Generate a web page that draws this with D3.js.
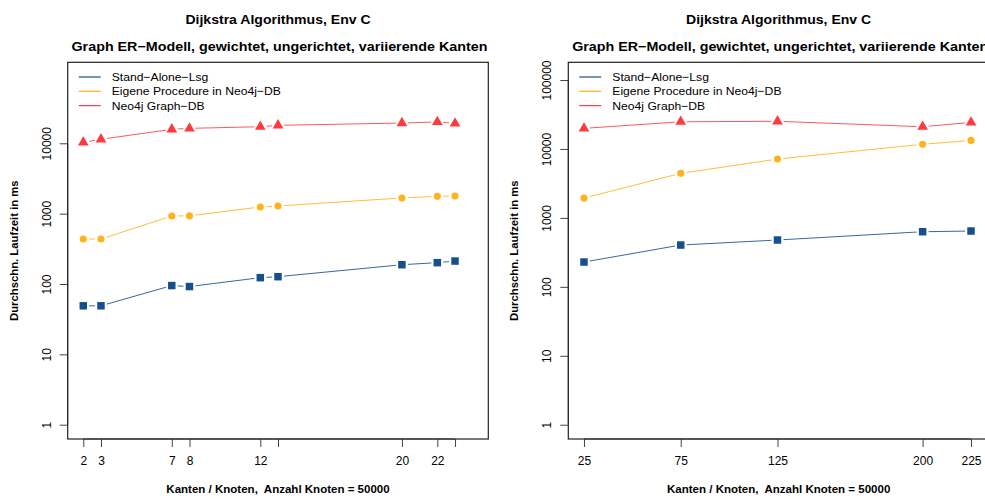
<!DOCTYPE html>
<html>
<head>
<meta charset="utf-8">
<script src="https://cdn.jsdelivr.net/npm/d3@7"></script>
<style>
  body { margin: 0; background: #fff; }
  text { font-family: "Liberation Sans", Arial, sans-serif; fill: #000; white-space: pre; }
</style>
</head>
<body>
<div id="chart"></div>
<script>
// data
var seriesNames = ["Stand\u2212Alone\u2212Lsg", "Eigene Procedure in Neo4j\u2212DB", "Neo4j Graph\u2212DB"];
var seriesColors = ["#154f8c", "#ffb21a", "#ff3a3f"];

var leftX = [2, 3, 7, 8, 12, 13, 20, 22, 23];
var leftXLabels = ["2", "3", "7", "8", "12", "", "20", "22", ""];
var leftStandAlone = [49, 49, 95, 92, 123, 127, 188, 201, 212];
var leftProcedure = [436, 436, 926, 930, 1244, 1285, 1670, 1763, 1780];
var leftGraphDB = [10300, 11400, 15800, 16300, 17200, 18000, 19400, 20100, 19200];
var leftYTicks = [1, 10, 100, 1000, 10000];

var rightX = [25, 75, 125, 200, 225];
var rightXLabels = ["25", "75", "125", "200", "225"];
var rightStandAlone = [229, 404, 478, 630, 645];
var rightProcedure = [1940, 4430, 7140, 11700, 13300];
var rightGraphDB = [19900, 24800, 25200, 21000, 24300];
var rightYTicks = [1, 10, 100, 1000, 10000, 100000];

var title1 = "Dijkstra Algorithmus, Env C";
var title2 = "Graph ER\u2212Modell, gewichtet, ungerichtet, variierende Kanten";
var xTitle = "Kanten / Knoten,  Anzahl Knoten = 50000";
var yTitle = "Durchschn. Laufzeit in ms";

var svgWidth = 985;
var svgHeight = 499;

var svg = d3.select("#chart")
  .append("svg")
  .attr("width", svgWidth)
  .attr("height", svgHeight);

// the picture is a little wider than tall, so stretch text sideways
function wide(sel, k) {
  sel.each(function() {
    var w = this.getComputedTextLength();
    d3.select(this).attr("textLength", w * k).attr("lengthAdjust", "spacingAndGlyphs");
  });
}

function drawPanel(opts) {
  var g = svg.append("g");
  var left = opts.left, right = opts.right, top = 62.3, bottom = 439;

  var x = d3.scaleLinear().domain(opts.xDomain).range([left, right]);
  var y = d3.scaleLog().domain([Math.pow(10, opts.yLogMin), Math.pow(10, opts.yLogMax)]).range([bottom, top]);

  var cx = (left + right) / 2;

  // titles
  g.append("text").attr("x", cx).attr("y", 23.5).attr("text-anchor", "middle")
    .style("font-size", "13px").style("font-weight", "bold").text(title1).call(wide, 1.08);
  g.append("text").attr("x", cx + 1.5).attr("y", 51).attr("text-anchor", "middle")
    .style("font-size", "13px").style("font-weight", "bold").text(title2).call(wide, 1.1);

  // x axis
  var xAxis = d3.axisBottom(x)
    .tickValues(opts.xs)
    .tickFormat(function(d, i) { return opts.xLabels[i]; })
    .tickSizeInner(8).tickSizeOuter(0).tickPadding(9);
  var gx = g.append("g").attr("transform", "translate(0," + bottom + ")").call(xAxis);
  gx.select(".domain").attr("stroke", "#444")
    .attr("d", "M" + x(opts.xs[0]) + ",0H" + x(opts.xs[opts.xs.length - 1]));
  gx.selectAll(".tick line").attr("stroke", "#444");
  gx.selectAll("text").style("font-size", "12px").style("font-family", "Liberation Sans, Arial, sans-serif").attr("fill", "#000");

  // y axis
  var yAxis = d3.axisLeft(y)
    .tickValues(opts.yTicks)
    .tickFormat(d3.format("d"))
    .tickSizeInner(8).tickSizeOuter(0);
  var gy = g.append("g").attr("transform", "translate(" + left + ",0)").call(yAxis);
  gy.select(".domain").attr("stroke", "#444")
    .attr("d", "M0," + y(opts.yTicks[0]) + "V" + y(opts.yTicks[opts.yTicks.length - 1]));
  gy.selectAll(".tick line").attr("stroke", "#444");
  gy.selectAll(".tick text")
    .attr("x", 0).attr("y", 0).attr("dy", 0)
    .attr("text-anchor", "middle")
    .attr("transform", "translate(-17,0) rotate(-90)")
    .style("font-size", "12px").style("font-family", "Liberation Sans, Arial, sans-serif").attr("fill", "#000");

  // box
  g.append("rect").attr("x", left).attr("y", top)
    .attr("width", right - left).attr("height", bottom - top)
    .attr("fill", "none").attr("stroke", "#222").attr("stroke-width", 1.2);

  // axis titles
  g.append("text").attr("x", cx).attr("y", 493).attr("text-anchor", "middle")
    .style("font-size", "11.3px").style("font-weight", "bold").text(xTitle).call(wide, 1.02);
  g.append("text").attr("transform", "translate(" + (left - 50) + "," + ((top + bottom) / 2) + ") rotate(-90)")
    .attr("text-anchor", "middle")
    .style("font-size", "11.3px").style("font-weight", "bold").text(yTitle);

  // series, drawn like type = "b" (lines broken around points)
  var gap = 6;
  opts.series.forEach(function(vals, s) {
    var col = seriesColors[s];
    var pts = vals.map(function(v, i) { return [x(opts.xs[i]), y(v)]; });
    for (var i = 0; i < pts.length - 1; i++) {
      var dx = pts[i + 1][0] - pts[i][0], dy = pts[i + 1][1] - pts[i][1];
      var len = Math.sqrt(dx * dx + dy * dy);
      if (len <= 2 * gap) continue;
      var ux = dx / len, uy = dy / len;
      g.append("line")
        .attr("x1", pts[i][0] + ux * gap).attr("y1", pts[i][1] + uy * gap)
        .attr("x2", pts[i + 1][0] - ux * gap).attr("y2", pts[i + 1][1] - uy * gap)
        .attr("stroke", col).attr("stroke-width", 1).attr("stroke-opacity", 0.85);
    }
    var sym = [d3.symbolSquare, d3.symbolCircle, d3.symbolTriangle][s];
    var size = [56, 40, 50][s];
    g.selectAll(".pt" + s)
      .data(pts)
      .enter()
      .append("path")
      .attr("d", d3.symbol().type(sym).size(size))
      .attr("transform", function(d) { return "translate(" + d[0] + "," + d[1] + ")"; })
      .attr("fill", col);
  });

  // legend
  var lg = g.append("g");
  seriesNames.forEach(function(name, i) {
    var ly = 77 + i * 14.3;
    lg.append("line").attr("x1", left + 11).attr("x2", left + 33)
      .attr("y1", ly).attr("y2", ly)
      .attr("stroke", seriesColors[i]).attr("stroke-width", 1.2);
    lg.append("text").attr("x", left + 44).attr("y", ly + 4)
      .style("font-size", "11.8px").text(name).call(wide, 1.03);
  });
}

drawPanel({
  left: 67.7, right: 488.3,
  xDomain: [1.12, 24.88],
  yLogMin: -0.203, yLogMax: 5.151,
  xs: leftX, xLabels: leftXLabels, yTicks: leftYTicks,
  series: [leftStandAlone, leftProcedure, leftGraphDB]
});

drawPanel({
  left: 568.3, right: 989,
  xDomain: [16.9, 234.3],
  yLogMin: -0.207, yLogMax: 5.257,
  xs: rightX, xLabels: rightXLabels, yTicks: rightYTicks,
  series: [rightStandAlone, rightProcedure, rightGraphDB]
});
</script>
</body>
</html>
